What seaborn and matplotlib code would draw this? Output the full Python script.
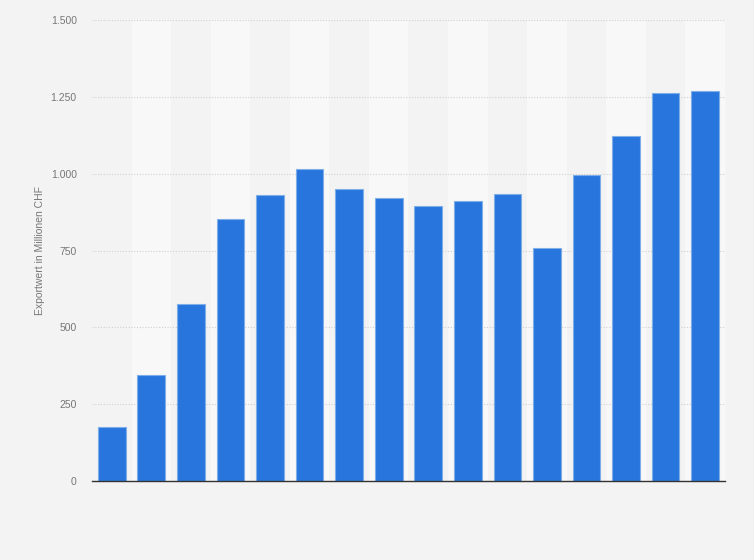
import matplotlib
matplotlib.use('Agg')
import matplotlib.pyplot as plt
import seaborn as sns
import pandas as pd
from matplotlib.ticker import FuncFormatter

# Daten (Exportwert in Millionen CHF), Kategorien ohne sichtbare Beschriftung
kategorien = [f'K{i + 1}' for i in range(16)]
exportwert = [176, 345, 576, 853, 931, 1015, 950, 921, 895, 911, 934, 758, 996, 1123, 1263, 1269]
y_ticks = [0, 250, 500, 750, 1000, 1250, 1500]

df = pd.DataFrame({'kategorie': kategorien, 'wert': exportwert})

sns.set_style('white')
plt.rcParams['font.family'] = ['Liberation Sans', 'DejaVu Sans']

fig = plt.figure(figsize=(7.54, 5.6), dpi=100, facecolor='#f3f3f3')
ax = fig.add_axes([0.122, 0.141, 0.8395, 0.823])
ax.set_facecolor('#f3f3f3')

# abwechselnde helle Spalten
for i in range(len(kategorien)):
    if i % 2 == 1:
        ax.axvspan(i - 0.5, i + 0.5, color='#f8f8f8', zorder=0, lw=0)

sns.barplot(data=df, x='kategorie', y='wert', color='#2876dd', width=0.7,
            edgecolor='#7fadea', linewidth=0.8, saturation=1, ax=ax, zorder=3)

ax.set_xlim(-0.5, len(kategorien) - 0.5)
ax.set_ylim(0, 1500)
ax.set_yticks(y_ticks)
ax.yaxis.set_major_formatter(FuncFormatter(lambda v, p: f'{int(v):,}'.replace(',', '.')))
ax.grid(axis='y', color='#d0d0d0', linestyle=(0, (1, 1.5)), linewidth=0.8, zorder=1)
ax.set_axisbelow(True)

ax.set_xticks([])
ax.set_xlabel('')
ax.set_ylabel('Exportwert in Millionen CHF', fontsize=7.5, color='#777777')
ax.yaxis.set_label_coords(-0.074, 0.5)
ax.tick_params(axis='y', length=0, labelsize=7.5, labelcolor='#777777', pad=11)

for s in ['top', 'right', 'left']:
    ax.spines[s].set_visible(False)
ax.spines['bottom'].set_color('#333333')
ax.spines['bottom'].set_linewidth(1.0)
ax.spines['bottom'].set_zorder(5)

plt.savefig('out.png', dpi=100, facecolor=fig.get_facecolor())
